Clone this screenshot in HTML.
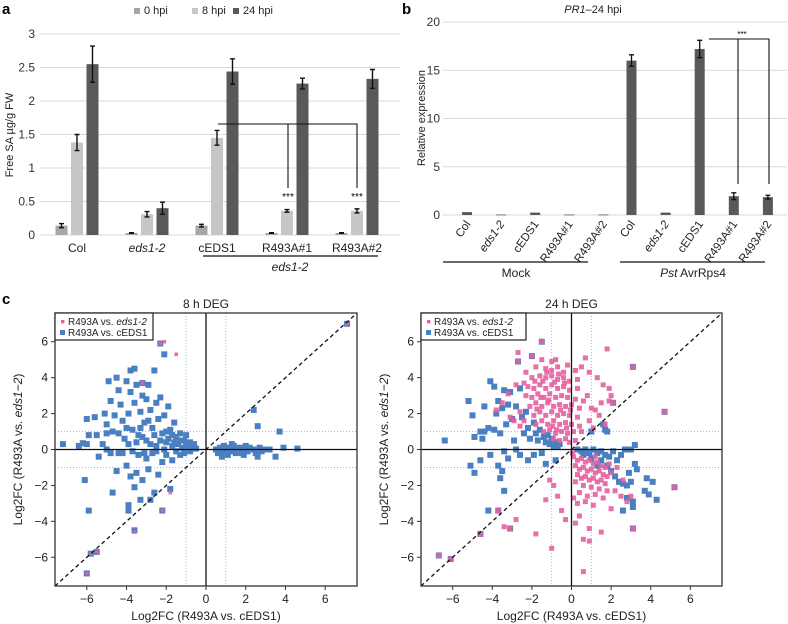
<!DOCTYPE html>
<html><head><meta charset="utf-8"><style>
html,body{margin:0;padding:0;background:#fff;}
svg{display:block;font-family:"Liberation Sans",sans-serif;}
</style></head><body>
<svg id="fig" width="788" height="624" viewBox="0 0 788 624" xmlns="http://www.w3.org/2000/svg">
<text x="2" y="14" font-size="15" font-weight="bold">a</text>
<text x="402" y="14" font-size="15" font-weight="bold">b</text>
<text x="2" y="304" font-size="15" font-weight="bold">c</text>
<g id="pa"></g>
<g id="pb"></g>
<g id="pc1"></g>
<g id="pc2"></g>
</svg>
<script>
// ---- Panel a data ----
const aGroups = ["Col","eds1-2","cEDS1","R493A#1","R493A#2"];
const aSeries = ["0 hpi","8 hpi","24 hpi"];
const a0 = [0.14,0.03,0.14,0.03,0.03];
const a8 = [1.38,0.31,1.45,0.36,0.36];
const a24 = [2.55,0.40,2.44,2.26,2.33];
const a0err = [0.03,0.005,0.02,0.005,0.005];
const a8err = [0.12,0.04,0.11,0.02,0.03];
const a24err = [0.27,0.09,0.19,0.08,0.14];
const aTicks = [0,0.5,1,1.5,2,2.5,3];
// ---- Panel b data ----
const bGroups = ["Col","eds1-2","cEDS1","R493A#1","R493A#2","Col","eds1-2","cEDS1","R493A#1","R493A#2"];
const bVals = [0.3,0.05,0.25,0.05,0.05,16.0,0.25,17.2,1.95,1.85];
const bErr = [0.05,0.01,0.08,0.01,0.01,0.6,0.05,0.9,0.35,0.2];
const bTicks = [0,5,10,15,20];
// ---- Panel c data ----
const cTicks = [-6,-4,-2,0,2,4,6];
const c8blue = [[-7.2,0.3],[-6.4,0.2],[-6.2,0.35],[-6.0,0.3],[-5.9,0.8],[-6.0,1.7],[-5.6,1.8],[-5.5,0.8],[-5.2,0.3],[-5.1,2.0],[-5.0,1.4],[-5.0,0.9],[-4.9,3.8],[-4.8,2.7],[-4.7,1.0],[-4.6,1.9],[-4.5,4.0],[-4.4,3.3],[-4.3,2.5],[-4.2,1.6],[-4.1,0.6],[-4.0,3.8],[-3.9,2.0],[-3.8,4.4],[-3.8,3.2],[-3.7,1.1],[-3.6,4.5],[-3.6,2.6],[-3.5,3.6],[-3.4,0.8],[-3.3,2.1],[-3.2,3.0],[-3.1,1.5],[-3.0,2.8],[-3.0,0.5],[-2.9,3.6],[-2.8,2.2],[-2.7,1.2],[-2.6,4.4],[-2.5,2.6],[-2.5,0.2],[-2.4,1.7],[-2.3,2.9],[-2.2,0.9],[-2.1,1.9],[-2.0,0.4],[-1.9,2.4],[-1.8,1.1],[-1.7,0.2],[-1.6,1.5],[-1.5,0.7],[-1.4,0.3],[-1.3,0.9],[-1.2,0.1],[-1.1,0.5],[-1.0,0.8],[-0.9,0.2],[-0.8,0.4],[-0.7,0.1],[-0.6,0.3],[-0.5,0.05],[-3.5,0.4],[-3.2,0.7],[-2.8,0.3],[-2.6,0.8],[-2.3,0.5],[-2.0,1.0],[-1.9,0.6],[-1.7,0.8],[-1.6,0.4],[-1.3,0.5],[-1.0,0.3],[-2.9,1.6],[-3.3,1.2],[-4.4,0.9],[-4.0,1.2],[-3.9,0.3],[-6.1,-1.7],[-5.9,-3.4],[-5.4,-0.4],[-5.0,0.0],[-4.8,-0.2],[-4.7,-2.4],[-4.5,-1.2],[-4.2,-0.2],[-4.0,-0.9],[-3.9,-3.1],[-3.9,-3.4],[-3.8,-1.5],[-3.6,-2.1],[-3.5,-1.3],[-3.4,-0.3],[-3.3,-2.8],[-3.2,-1.7],[-3.0,-0.5],[-2.9,-1.1],[-2.8,-2.8],[-2.7,-0.2],[-2.6,-2.4],[-2.4,-1.4],[-2.2,-0.7],[-2.0,-0.3],[-1.8,-2.2],[-1.7,-0.6],[-1.5,-0.1],[-1.3,-0.3],[-1.1,-0.2],[-0.8,-0.1],[-4.4,-0.2],[-3.7,-0.1],[-3.1,-0.2],[-2.5,-0.1],[-2.1,0.0],[-2.3,5.9],[-2.1,5.3],[-3.2,3.7],[-2.2,-3.4],[-3.6,-4.5],[-5.8,-5.8],[-5.5,-5.7],[-6.0,-6.9],[7.1,7.0],[0.5,0.0],[0.6,-0.2],[0.7,0.1],[0.8,-0.1],[0.9,0.2],[1.0,0.0],[1.1,-0.3],[1.2,0.1],[1.3,-0.1],[1.4,0.2],[1.5,-0.2],[1.6,0.0],[1.7,0.1],[1.8,-0.2],[1.9,0.05],[2.0,0.2],[2.1,-0.1],[2.2,0.1],[2.4,0.0],[2.5,-0.2],[2.7,0.1],[2.8,-0.1],[3.0,0.0],[3.2,0.0],[0.8,-0.4],[1.3,0.3],[1.9,-0.3],[2.6,-0.4],[3.5,-0.4],[3.7,1.0],[3.9,0.1],[4.6,0.05],[2.4,2.2],[2.6,1.3]];
const c8pink = [[-2.3,5.9],[-2.1,6.0],[-1.5,5.3],[-3.2,3.7],[-1.8,-2.4],[-2.2,-3.4],[-3.6,-4.6],[-5.8,-5.8],[-5.5,-5.7],[-6.0,-6.9],[7.1,7.0]];
const c24blue = [[-6.4,0.5],[-5.2,2.7],[-5.0,1.9],[-4.9,0.7],[-4.6,1.0],[-4.5,0.6],[-4.4,1.0],[-4.4,2.4],[-4.2,1.2],[-4.1,3.8],[-3.9,3.5],[-3.9,1.1],[-3.8,2.0],[-3.7,2.7],[-3.6,0.9],[-3.5,2.3],[-3.4,3.3],[-3.3,1.4],[-3.2,2.5],[-3.1,3.2],[-3.0,1.7],[-2.9,0.5],[-2.8,2.4],[-2.7,4.9],[-2.6,3.4],[-2.5,1.8],[-2.4,0.9],[-2.3,2.1],[-2.2,1.2],[-2.1,0.6],[-2.0,5.2],[-1.9,1.5],[-1.8,0.9],[-1.7,0.5],[-1.6,1.1],[-1.5,6.0],[-1.4,0.7],[-1.3,0.4],[-1.2,0.8],[-1.1,0.3],[-1.0,0.6],[-0.9,0.2],[-0.8,0.4],[-0.7,0.2],[-0.6,0.3],[-2.6,-0.3],[-3.4,-0.1],[-3.7,-0.9],[-4.6,-0.6],[-5.1,-0.9],[-4.9,-1.3],[-3.5,-1.2],[-3.2,-0.5],[-2.2,-0.6],[-1.5,-0.2],[-1.3,-0.8],[-0.8,-0.6],[-3.6,-1.6],[-3.4,-2.3],[-4.2,-3.4],[-3.7,-3.4],[-3.1,-4.4],[-4.6,-4.7],[-6.7,-5.9],[-6.1,-6.1],[-2.8,0.0],[-4.1,-0.3],[-1.9,-0.3],[0.5,-0.1],[0.7,0.0],[0.9,-0.2],[1.1,0.0],[1.3,-0.2],[1.5,-0.1],[1.7,-0.3],[1.9,-0.4],[2.1,-0.1],[2.3,-0.6],[2.5,-0.3],[2.7,0.0],[3.0,0.0],[3.2,0.25],[1.5,-0.6],[1.8,-0.9],[2.0,-1.2],[2.2,-1.5],[2.4,-1.8],[2.6,-1.9],[2.8,-2.0],[3.0,-1.8],[3.2,-0.8],[3.3,-1.1],[3.8,-1.6],[4.1,-1.8],[3.9,-2.5],[4.3,-2.8],[3.7,-2.3],[3.1,-2.9],[3.1,-3.2],[2.6,-3.4],[3.1,-4.4],[5.2,-2.1],[2.8,-2.7],[1.0,1.0],[1.7,1.1],[1.8,1.0],[1.6,1.4],[2.1,2.6],[3.1,4.6],[4.7,2.1],[0.3,0.0],[1.0,-0.5],[1.3,-0.9],[0.6,-0.3],[2.9,-1.3]];
const c24pink = [[-1.5,5.0],[-1.0,4.9],[-0.8,5.0],[-0.2,4.7],[0.7,5.1],[1.8,5.6],[-1.8,4.6],[-1.3,4.5],[-1.0,4.4],[-0.7,4.6],[-0.4,4.3],[0.2,4.4],[0.5,4.6],[-2.0,4.0],[-1.6,4.1],[-1.3,4.0],[-1.0,4.1],[-0.7,3.9],[-0.4,4.0],[-0.1,3.8],[0.3,3.9],[1.3,4.0],[1.6,3.6],[-2.2,3.5],[-1.9,3.4],[-1.6,3.6],[-1.3,3.4],[-1.0,3.6],[-0.7,3.4],[-0.4,3.5],[-0.1,3.3],[0.3,3.4],[0.8,3.0],[-2.3,3.0],[-2.0,2.9],[-1.7,3.1],[-1.4,2.9],[-1.1,3.1],[-0.8,2.9],[-0.5,3.0],[-0.2,2.9],[0.2,2.8],[0.6,2.7],[1.5,2.6],[1.9,3.4],[-2.1,2.4],[-1.8,2.6],[-1.5,2.4],[-1.2,2.6],[-0.9,2.4],[-0.6,2.5],[-0.3,2.4],[0.0,2.5],[0.4,2.3],[1.2,2.2],[-2.6,2.1],[-1.9,1.9],[-1.6,2.1],[-1.3,1.9],[-1.0,2.1],[-0.7,1.9],[-0.4,2.0],[-0.1,1.9],[0.3,1.8],[0.9,1.6],[-1.8,1.4],[-1.5,1.6],[-1.2,1.4],[-0.9,1.6],[-0.6,1.4],[-0.3,1.5],[0.0,1.4],[0.4,1.3],[1.1,1.2],[-1.4,1.0],[-1.1,1.1],[-0.8,0.9],[-0.5,1.0],[-0.2,0.9],[0.1,1.0],[0.5,1.0],[-0.9,0.6],[-0.6,0.5],[-0.3,0.6],[-0.1,0.4],[0.2,0.5],[-1.45,3.8],[-0.85,3.75],[-1.15,2.75],[-0.55,2.2],[-0.25,1.2],[-1.75,2.25],[-0.95,1.3],[-0.35,3.7],[-1.25,4.3],[-0.65,4.2],[-1.55,2.9],[-0.75,1.1],[-0.05,2.2],[-1.85,3.8],[-2.4,3.7],[-2.7,5.4],[-2.3,4.3],[-2.8,3.6],[-3.2,3.1],[-3.5,2.6],[-3.8,2.2],[-2.9,1.6],[-2.6,1.3],[-3.1,1.8],[-2.4,1.6],[1.0,2.3],[1.4,1.9],[1.7,1.4],[2.0,3.0],[0.9,4.3],[1.9,2.7],[-1.5,6.0],[-2.0,5.2],[-2.7,4.9],[3.1,4.6],[4.7,2.1],[2.1,2.6],[0.1,-0.4],[0.3,-0.6],[0.5,-0.5],[0.7,-0.7],[0.9,-0.6],[1.1,-0.8],[1.3,-0.7],[1.5,-0.9],[1.7,-1.0],[0.2,-0.9],[0.4,-1.1],[0.6,-1.0],[0.8,-1.2],[1.0,-1.1],[1.2,-1.3],[1.4,-1.2],[1.6,-1.4],[1.8,-1.5],[2.0,-1.3],[0.3,-1.4],[0.5,-1.6],[0.7,-1.5],[0.9,-1.7],[1.1,-1.6],[1.3,-1.8],[1.5,-1.7],[1.7,-1.9],[0.2,-1.8],[0.6,-2.0],[1.0,-2.1],[1.4,-2.2],[1.8,-2.3],[0.4,-2.4],[0.8,-2.6],[1.2,-2.5],[1.6,-2.7],[2.2,-2.3],[2.5,-2.6],[2.8,-2.9],[3.0,-2.6],[0.1,-2.7],[0.3,-3.0],[0.7,-2.9],[1.1,-3.1],[2.0,-3.3],[0.4,-3.7],[0.9,-4.4],[1.5,-4.6],[0.2,-4.1],[-0.3,-3.9],[-0.5,-3.4],[-0.7,-2.6],[-0.9,-2.0],[-1.1,-1.7],[-1.3,-2.8],[-1.8,-4.7],[-2.8,-3.9],[-3.4,-4.3],[-1.0,-5.5],[0.6,-5.0],[0.9,-5.1],[0.6,-6.8],[1.2,-0.4],[2.3,-1.0],[2.6,-1.7],[1.9,-0.8],[0.05,-0.2],[-6.7,-5.9],[-6.1,-6.1],[-4.6,-4.7],[-3.1,-4.4],[-3.7,-3.4],[5.2,-2.1],[3.1,-4.4]];

const NS="http://www.w3.org/2000/svg";
function mk(parent,tag,attrs,txt){const e=document.createElementNS(NS,tag);for(const k in attrs)e.setAttribute(k,attrs[k]);if(txt!==undefined)e.textContent=txt;parent.appendChild(e);return e;}

// ===== Panel A =====
(function(){
const g=document.getElementById('pa');
const y0=235, pxu=67;
const ya=v=>y0-v*pxu;
const centers=[77,147,217,287,357];
const off=[-15.5,0,15.5], bw=12;
const cols=['#a6a6a6','#c6c6c6','#595959'];
aTicks.forEach(t=>{
 const l=mk(g,'line',{x1:40,x2:400,y1:ya(t),y2:ya(t),stroke:'#d9d9d9','stroke-width':1});
 
 
 const tx=mk(g,'text',{x:35,y:ya(t)+4,'font-size':12,'text-anchor':'end',fill:'#333'},String(t));
 
 
});
const yt=mk(g,'text',{x:0,y:0,'font-size':11,'text-anchor':'middle',transform:'translate(13,135) rotate(-90)',fill:'#222'},'Free SA µg/g FW');


const series=[a0,a8,a24], errs=[a0err,a8err,a24err];
series.forEach((s,si)=>{
 s.forEach((v,i)=>{
  const x=centers[i]+off[si];
  const r=mk(g,'rect',{x:x-bw/2,y:ya(v),width:bw,height:ya(0)-ya(v),fill:cols[si]});
  
  
  const e=errs[si][i];
  const p=mk(g,'path',{d:`M${x},${ya(v+e)}V${ya(v-e)}M${x-2.5},${ya(v+e)}h5M${x-2.5},${ya(v-e)}h5`,stroke:'#111','stroke-width':1.4,fill:'none'});
  
  
 });
});
aGroups.forEach((n,i)=>{
 const t=mk(g,'text',{x:centers[i],y:252,'font-size':12,'text-anchor':'middle','font-style':n==='eds1-2'?'italic':'normal',fill:'#222'},n);
 
 
});
mk(g,'line',{x1:203,x2:378,y1:256,y2:256,stroke:'#111','stroke-width':1.3,});
mk(g,'text',{x:290,y:271,'font-size':12,'text-anchor':'middle','font-style':'italic',fill:'#222',},'eds1-2');
mk(g,'path',{d:'M218,124H357V188M288,124V188',stroke:'#111','stroke-width':1.1,fill:'none',});
mk(g,'text',{x:288,y:200,'font-size':10,'text-anchor':'middle',},'***');
mk(g,'text',{x:357,y:200,'font-size':10,'text-anchor':'middle',},'***');
const lx=[134,192,233];
aSeries.forEach((s,i)=>{
 const r=mk(g,'rect',{x:lx[i],y:8,width:6,height:6,fill:cols[i]});
 
 
 const t=mk(g,'text',{x:lx[i]+10,y:14,'font-size':11,fill:'#222'},s);
 
 
});
})();

// ===== Panel B =====
(function(){
const g=document.getElementById('pb');
const y0=215, pxu=9.65;
const yb=v=>y0-v*pxu;
const x0=467, step=34.1, bw=10;
const xb=i=>x0+i*step - (i>=5?6:0);
mk(g,'text',{x:593,y:13,'font-size':11,'text-anchor':'middle',fill:'#222',}).innerHTML='<tspan font-style="italic">PR1</tspan>–24 hpi';
bTicks.forEach(t=>{
 const l=mk(g,'line',{x1:443,x2:787,y1:yb(t),y2:yb(t),stroke:'#d9d9d9','stroke-width':1});
 
 
 const tx=mk(g,'text',{x:440,y:yb(t)+4,'font-size':12,'text-anchor':'end',fill:'#333'},String(t));
 
 
});
mk(g,'text',{x:0,y:0,'font-size':11,'text-anchor':'middle',transform:'translate(425,118) rotate(-90)',fill:'#222',},'Relative expression');
bVals.forEach((v,i)=>{
 const x=xb(i);
 const r=mk(g,'rect',{x:x-bw/2,y:yb(v),width:bw,height:Math.max(0.8,yb(0)-yb(v)),fill:'#595959'});
 
 
 const e=bErr[i];
 if(e>0.1){
  const p=mk(g,'path',{d:`M${x},${yb(v+e)}V${yb(v-e)}M${x-2.5},${yb(v+e)}h5M${x-2.5},${yb(v-e)}h5`,stroke:'#111','stroke-width':1.3,fill:'none'});
  
  
 }
 const t=mk(g,'text',{x:0,y:0,'font-size':11.5,'text-anchor':'end',transform:`translate(${x+4},${224}) rotate(-55)`,'font-style':bGroups[i]==='eds1-2'?'italic':'normal',fill:'#222'},bGroups[i]);
 
 
});
mk(g,'line',{x1:443,x2:588,y1:262,y2:262,stroke:'#111','stroke-width':1.3,});
mk(g,'line',{x1:620,x2:765,y1:262,y2:262,stroke:'#111','stroke-width':1.3,});
mk(g,'text',{x:516,y:277,'font-size':12,'text-anchor':'middle',fill:'#222',},'Mock');
mk(g,'text',{x:693,y:277,'font-size':12,'text-anchor':'middle',fill:'#222',}).innerHTML='<tspan font-style="italic">Pst</tspan> AvrRps4';
mk(g,'path',{d:'M709,39H769V184M738,39V184',stroke:'#111','stroke-width':1.1,fill:'none',});
mk(g,'text',{x:742,y:37,'font-size':8,'text-anchor':'middle',},'***');
})();

// ===== Panel C =====
function scatter(gid,L,R,title,blue,pink,ylx,tlx,ps){
 const g=document.getElementById(gid);
 const T=313,B=586, cx=(L+R)/2, cy=(T+B)/2;
 const ux=(R-L)/15.2, uy=(B-T)/15.2;
 const sx=v=>cx+v*ux, sy=v=>cy-v*uy;
 const tt=mk(g,'text',{x:cx,y:308,'font-size':12,'text-anchor':'middle',fill:'#222'},title);
 
 
 mk(g,'line',{x1:L,x2:R,y1:sy(1),y2:sy(1),stroke:'#e58bb8','stroke-width':0.8,'stroke-dasharray':'1,2',});
 mk(g,'line',{x1:L,x2:R,y1:sy(-1),y2:sy(-1),stroke:'#e58bb8','stroke-width':0.8,'stroke-dasharray':'1,2',});
 mk(g,'line',{x1:sx(1),x2:sx(1),y1:T,y2:B,stroke:'#7fa6d6','stroke-width':0.8,'stroke-dasharray':'1,2',});
 mk(g,'line',{x1:sx(-1),x2:sx(-1),y1:T,y2:B,stroke:'#7fa6d6','stroke-width':0.8,'stroke-dasharray':'1,2',});
 blue.forEach(p=>{
  const r=mk(g,'rect',{x:sx(p[0])-3,y:sy(p[1])-3,width:6,height:6,fill:'#4a7fc1'});
  
  
 });
 pink.forEach(p=>{
  const r=mk(g,'rect',{x:sx(p[0])-ps/2,y:sy(p[1])-ps/2,width:ps,height:ps,fill:'#e6609e','fill-opacity':0.9});
  
  
 });
 mk(g,'line',{x1:L,x2:R,y1:sy(0),y2:sy(0),stroke:'#111','stroke-width':1.3,});
 mk(g,'line',{x1:sx(0),x2:sx(0),y1:T,y2:B,stroke:'#111','stroke-width':1.3,});
 mk(g,'line',{x1:L,y1:B,x2:R,y2:T,stroke:'#111','stroke-width':1.3,'stroke-dasharray':'4,3',});
 mk(g,'rect',{x:L,y:T,width:R-L,height:B-T,fill:'none',stroke:'#333','stroke-width':1.3,});
 cTicks.forEach(t=>{
  const a=mk(g,'line',{x1:sx(t),x2:sx(t),y1:B,y2:B+4,stroke:'#333'});
  
  
  const b=mk(g,'text',{x:sx(t),y:B+17,'font-size':12,'text-anchor':'middle',fill:'#222'},t<0?'−'+(-t):String(t));
  
  
  const c=mk(g,'line',{x1:L-4,x2:L,y1:sy(t),y2:sy(t),stroke:'#333'});
  
  
  const d=mk(g,'text',{x:L-7,y:sy(t)+4,'font-size':12,'text-anchor':'end',fill:'#222'},t<0?'−'+(-t):String(t));
  
  
 });
 mk(g,'text',{x:cx,y:620,'font-size':12,'text-anchor':'middle',fill:'#222',},'Log2FC (R493A vs. cEDS1)');
 mk(g,'text',{x:0,y:0,'font-size':12,'text-anchor':'middle',transform:`translate(${ylx},${cy}) rotate(-90)`,fill:'#222',}).innerHTML='Log2FC (R493A vs. <tspan font-style="italic">eds1−2</tspan>)';
 mk(g,'rect',{x:L,y:T,width:tlx,height:27,fill:'#fff',stroke:'#222','stroke-width':1.2,});
 mk(g,'rect',{x:L+6,y:T+7,width:3.4,height:3.4,fill:'#e6609e',});
 mk(g,'rect',{x:L+5,y:T+17,width:5,height:5,fill:'#4a7fc1',});
 mk(g,'text',{x:L+13,y:T+12,'font-size':10,fill:'#222',}).innerHTML='R493A vs. <tspan font-style="italic">eds1-2</tspan>';
 mk(g,'text',{x:L+13,y:T+23,'font-size':10,fill:'#222',},'R493A vs. cEDS1');
}
scatter('pc1',55,357,'8 h DEG',c8blue,c8pink,22,98,3.6);
scatter('pc2',421,722,'24 h DEG',c24blue,c24pink,388,105,5);
</script>
</body></html>
